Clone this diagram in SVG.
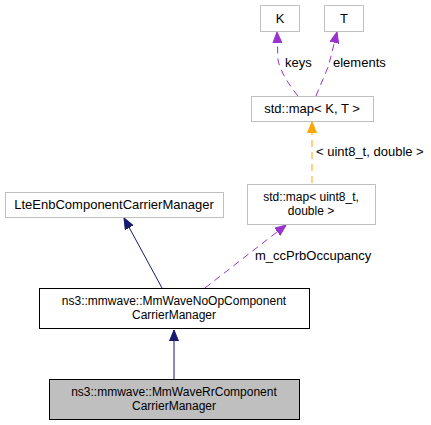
<svg xmlns="http://www.w3.org/2000/svg" width="431" height="425" viewBox="0 0 431 425">
<style>
text{font-family:"Liberation Sans",Arial,sans-serif;font-size:13px;fill:#000}
.n{text-anchor:middle}
.m{font-size:12px}
.g{fill:#fff;stroke:#bfbfbf;stroke-width:1}
.b{fill:#fff;stroke:#000;stroke-width:1}
.h{fill:#bfbfbf;stroke:#000;stroke-width:1}
.inh{fill:none;stroke:#191970;stroke-width:1}
.use{fill:none;stroke:#9a32cd;stroke-width:1;stroke-dasharray:7,5}
.tpl{fill:none;stroke:#ffa500;stroke-width:1;stroke-dasharray:7,5}
</style>
<defs>
<marker id="mInh" markerWidth="12" markerHeight="10" refX="11" refY="5" orient="auto" markerUnits="userSpaceOnUse"><path d="M0,0.5 L11,5 L0,9.5 Z" fill="#191970" stroke="#191970"/></marker>
<marker id="mUse" markerWidth="12" markerHeight="10" refX="11" refY="5" orient="auto" markerUnits="userSpaceOnUse"><path d="M0,0.5 L11,5 L0,9.5 Z" fill="#9a32cd" stroke="#9a32cd"/></marker>
<marker id="mTpl" markerWidth="12" markerHeight="10" refX="11" refY="5" orient="auto" markerUnits="userSpaceOnUse"><path d="M0,0.5 L11,5 L0,9.5 Z" fill="#ffa500" stroke="#ffa500"/></marker>
</defs>
<g id="edges">
<path class="inh" d="M174,379 L174,330" marker-end="url(#mInh)"/>
<path class="inh" d="M162,288 L124,218" marker-end="url(#mInh)"/>
<path class="use" d="M205,288 L286,225" marker-end="url(#mUse)"/>
<text x="255" y="260">m_ccPrbOccupancy</text>
<path class="tpl" d="M312,183 L312,122" marker-end="url(#mTpl)"/>
<text x="316" y="156">&lt; uint8_t, double &gt;</text>
<path class="use" d="M298,96 C288,84 280,70 278,60 L277,32" marker-end="url(#mUse)"/>
<text x="285" y="67">keys</text>
<path class="use" d="M316,96 C320,85 328,70 330,60 L337,32" marker-end="url(#mUse)"/>
<text x="333" y="67">elements</text>
</g>
<g id="node-K"><rect class="g" x="260.5" y="5.5" width="39" height="26"/><text class="n" x="280" y="22.5">K</text></g>
<g id="node-T"><rect class="g" x="324.5" y="5.5" width="39" height="26"/><text class="n" x="344" y="22.5">T</text></g>
<g id="node-mapKT"><rect class="g" x="251.5" y="96.5" width="122" height="25"/><text class="n" x="312" y="113">std::map&lt; K, T &gt;</text></g>
<g id="node-mapU"><rect class="g" x="247.5" y="184.5" width="128" height="40"/><text class="n m" x="311" y="200.5">std::map&lt; uint8_t,</text><text class="n m" x="311" y="214.5">double &gt;</text></g>
<g id="node-Lte"><rect class="g" x="5.5" y="192.5" width="218" height="25"/><text class="n" x="114" y="209">LteEnbComponentCarrierManager</text></g>
<g id="node-NoOp"><rect class="b" x="39.5" y="288.5" width="270" height="40"/><text class="n m" x="174" y="304.5">ns3::mmwave::MmWaveNoOpComponent</text><text class="n m" x="174" y="318.5">CarrierManager</text></g>
<g id="node-Rr"><rect class="h" x="49.5" y="379.5" width="250" height="40"/><text class="n m" x="174" y="395.5">ns3::mmwave::MmWaveRrComponent</text><text class="n m" x="174" y="409.5">CarrierManager</text></g>
</svg>
